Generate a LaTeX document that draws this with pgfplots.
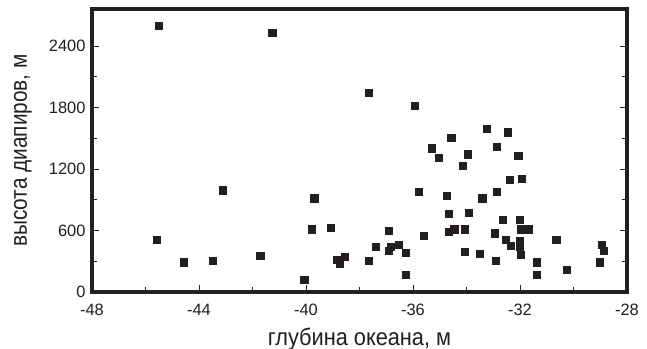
\documentclass[border=0pt]{standalone}
\usepackage{fontspec}
\setmainfont{Liberation Sans}
\usepackage{graphicx}
\usepackage{pgfplots}
\pgfplotsset{compat=1.18}
\usetikzlibrary{calc}
\definecolor{ink}{HTML}{231F20}

\begin{document}
\begin{tikzpicture}
\begin{axis}[
  scale only axis,
  width=535bp, height=283bp,
  xmin=-48, xmax=-28,
  ymin=0, ymax=2760,
  xtick={-48,-44,-40,-36,-32,-28},
  xticklabels={-48,-44,-40,-36,-32,-28},
  ytick={0,600,1200,1800,2400},
  yticklabels={0,600,1200,1800,2400},
  minor x tick num=1,
  minor y tick num=1,
  xtick pos=bottom,
  ytick pos=both,
  yticklabel pos=left,
  tick align=inside,
  major tick length=7bp,
  minor tick length=5bp,
  every tick/.style={ink, line width=0.8bp},
  axis line style={ink, line width=3.3bp},
  ticklabel style={font=\fontsize{16.5}{19}\selectfont, text=ink},
  xticklabel style={yshift=-9bp},
  yticklabel style={xshift=-3bp},
  label style={font=\fontsize{24}{28}\selectfont, text=ink},
  xlabel={\scalebox{0.91}[1]{глубина океана, м}},
  ylabel={\scalebox{0.87}[1]{высота диапиров, м}},
  xlabel style={at={(axis description cs:0.5,-0.1873)}, anchor=base},
  ylabel style={at={(axis description cs:-0.1215,0.5)}, anchor=base},
  clip=false,
]
\addplot[only marks, mark=square*, mark size=3.6bp, mark options={fill=ink, draw=ink}] coordinates {
  (-45.52,2595) (-41.26,2530) (-37.67,1944) (-35.93,1817)
  (-33.25,1593) (-32.46,1558) (-34.57,1505) (-35.30,1402)
  (-32.87,1418) (-35.03,1307) (-33.97,1343) (-32.07,1333)
  (-34.13,1232) (-32.40,1093) (-31.93,1105) (-35.80,982)
  (-34.75,940)  (-32.86,982)  (-33.41,914)  (-34.68,761)
  (-33.91,774)  (-32.64,709)  (-32.01,709)  (-36.92,598)
  (-35.59,546)  (-34.68,585)  (-34.46,612)  (-34.08,612)
  (-32.96,573)  (-31.98,612)  (-31.69,612)  (-30.65,507)
  (-37.38,442)  (-36.92,400)  (-36.83,442)  (-36.52,459)
  (-36.26,387)  (-37.67,305)  (-36.26,166)  (-34.08,390)
  (-33.51,377)  (-32.91,305)  (-32.52,507)  (-32.01,500)
  (-32.35,449)  (-32.01,442)  (-31.98,361)  (-31.38,290)
  (-31.38,166)  (-30.25,215)  (-29.02,290)  (-28.95,459)
  (-28.88,403)  (-43.11,992)  (-45.57,507)  (-44.56,290)
  (-43.50,305)  (-41.71,354)  (-40.07,117)  (-39.69,914)
  (-39.80,612)  (-39.07,631)  (-38.85,312)  (-38.73,280)
  (-38.54,344)
};
\end{axis}
\pgfresetboundingbox
\path ($(current axis.south west)+(-92bp,-57bp)$) rectangle ($(current axis.north east)+(20bp,9bp)$);
\end{tikzpicture}
\end{document}
